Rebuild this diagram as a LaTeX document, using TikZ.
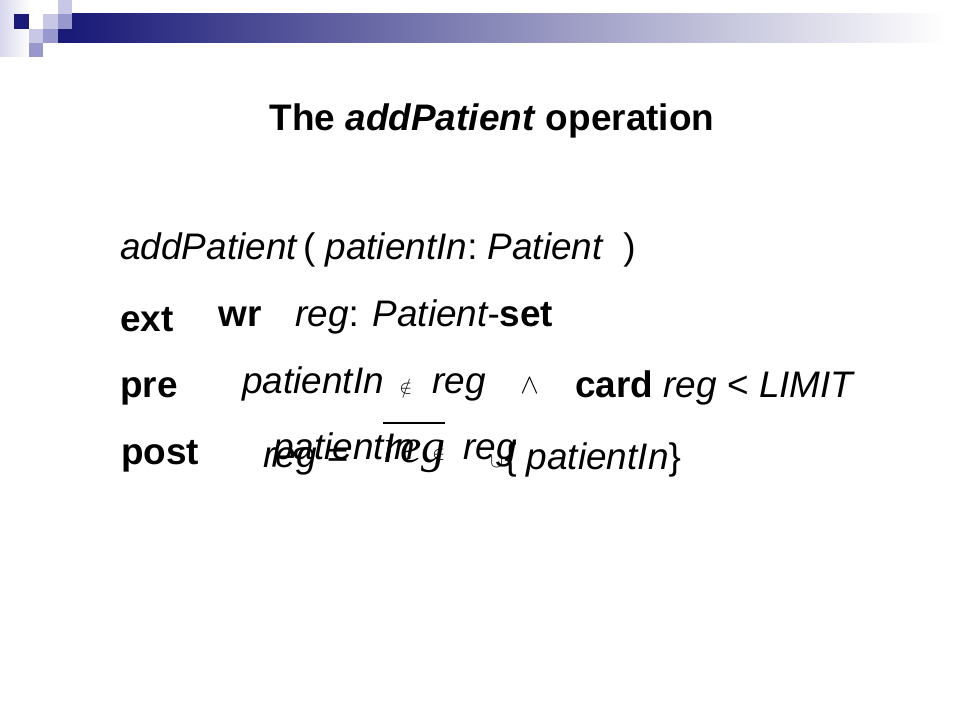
\documentclass[tikz,border=0pt]{standalone}
\usepackage{fontspec}
\setmainfont{Liberation Sans}
\newfontfamily\serifit{Liberation Serif}
\definecolor{navy}{RGB}{26,26,120}
\definecolor{lav1}{RGB}{200,200,230}
\definecolor{lav2}{RGB}{152,152,204}
\definecolor{lav0}{RGB}{215,215,238}
\tikzset{
  txt/.style={anchor=base west, inner sep=0pt, font=\fontsize{27.7}{33}\selectfont},
  sym/.style={anchor=base west, inner sep=0pt, font=\fontsize{14}{17}\selectfont},
  wedgesym/.style={anchor=base west, inner sep=0pt, font=\fontsize{20}{24}\selectfont}
}
\begin{document}
\begin{tikzpicture}[x=0.75pt,y=-0.75pt]
\useasboundingbox (0,0) rectangle (960,720);
\fill[white] (0,0) rectangle (960,720);
% header decoration
\shade[left color=lav0, right color=white] (0,0) rectangle (30,57);
\shade[left color=navy, right color=white] (72,14) rectangle (945,43);
\fill[navy] (58,29) rectangle (72,43);
\fill[navy] (14,14) rectangle (29,29);
\fill[lav1] (43,14) rectangle (58,29);
\fill[lav1] (58,0) rectangle (72,14);
\fill[lav2] (58,14) rectangle (72,29);
\fill[lav1] (29,29) rectangle (43,43);
\fill[lav2] (43,29) rectangle (58,43);
\fill[lav2] (29,43) rectangle (43,57);
% title
\node[txt, anchor=base] (title) at (492,131) {\bfseries The \textit{addPatient} operation};
% signature
\node[txt] (sig) at (120,260) {\itshape addPatient\,\upshape(\ \itshape patientIn\upshape:\ \itshape Patient\ \ \upshape)};
% ext
\node[txt] (ext) at (120,331) {\bfseries ext};
\node[txt] (wr) at (218,326) {\bfseries wr};
\node[txt] (regdecl) at (295,326) {\itshape reg\upshape: \itshape Patient\upshape-\bfseries set};
% pre
\node[txt] (pre) at (120,397) {\bfseries pre};
\node[txt] (pre1) at (242,393) {\itshape patientIn};
\node[sym] (notin1) at (399,393) {$\notin$};
\node[txt] (pre1b) at (432,393) {\itshape reg};
\node[wedgesym] (and) at (520,393) {$\wedge$};
\node[txt] (pre2) at (575,397) {\bfseries card \mdseries\itshape reg \upshape< \itshape LIMIT};
% post
\node[txt] (post) at (121,464) {\bfseries post};
\node[txt] (post1) at (263,467) {\itshape reg \upshape=};
\node[txt] (oldreg) at (383,462) {\serifit\itshape\fontsize{36}{40}\selectfont reg};
\draw[line width=1.5pt] (383,423) -- (445,423);
\node[sym] (cup) at (490,467) {$\cup$};
\node[txt] (post2) at (504,469) {\upshape\{\ \itshape patientIn\upshape\}};
\node[txt] (post3) at (273,459) {\itshape patientIn};
\node[sym] (notin2) at (432,459) {$\notin$};
\node[txt] (post3b) at (463,459) {\itshape reg};
\end{tikzpicture}
\end{document}
